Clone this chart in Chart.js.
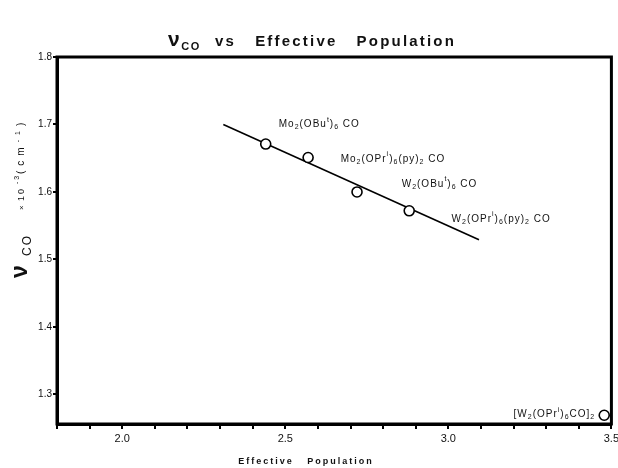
<!DOCTYPE html>
<html>
<head>
<meta charset="utf-8">
<script src="https://cdn.jsdelivr.net/npm/chart.js@4.4.1/dist/chart.umd.min.js"></script>
<style>
  html, body { margin: 0; padding: 0; background: #fff; }
  #wrap { width: 618px; height: 468px; }
</style>
</head>
<body>
<div id="wrap"><canvas id="c" width="618" height="468"></canvas></div>
<script>
// measured points (Effective Population, nu(CO) x 10^-3 cm^-1)
const popValues = [2.44, 2.57, 2.72, 2.88, 3.478];
const nuValues  = [1.671, 1.651, 1.600, 1.572, 1.269];

// hand drawn fit line through the first four compounds
const fitX = [2.31, 3.094];
const fitY = [1.700, 1.529];

// compound labels, _{..} subscript, ^{..} superscript
const labelText = [
  'Mo_{2}(OBu^{t})_{6} CO',
  'Mo_{2}(OPr^{i})_{6}(py)_{2} CO',
  'W_{2}(OBu^{t})_{6} CO',
  'W_{2}(OPr^{i})_{6}(py)_{2} CO',
  '[W_{2}(OPr^{i})_{6}CO]_{2}'
];
const labelX = [2.48, 2.67, 2.857, 3.01, 3.20];
const labelY = [1.700, 1.649, 1.612, 1.560, 1.270];

const xTicks = [1.8, 1.9, 2.0, 2.1, 2.2, 2.3, 2.4, 2.5, 2.6, 2.7, 2.8, 2.9, 3.0, 3.1, 3.2, 3.3, 3.4, 3.5];
const xTickLabels = ['2.0', '2.5', '3.0', '3.5'];
const yTicks = [1.3, 1.4, 1.5, 1.6, 1.7, 1.8];

const FONT = '"Liberation Sans", Arial, sans-serif';

// draws a string with sub/superscripts starting at x (left), baseline y
function richText(ctx, str, x, y, size, weight) {
  const re = /(_|\^)\{([^}]*)\}|([^_^]+)/g;
  let m;
  while ((m = re.exec(str)) !== null) {
    if (m[3]) {
      ctx.font = weight + ' ' + size + 'px ' + FONT;
      ctx.fillText(m[3], x, y);
      x += ctx.measureText(m[3]).width;
    } else {
      const s = size * 0.7;
      ctx.font = weight + ' ' + s + 'px ' + FONT;
      const dy = m[1] === '_' ? size * 0.3 : -size * 0.45;
      ctx.fillText(m[2], x, y + dy);
      x += ctx.measureText(m[2]).width;
    }
  }
  return x;
}

const decorations = {
  id: 'decorations',
  afterDraw(chart) {
    const ctx = chart.ctx;
    const a = chart.chartArea;
    const xs = chart.scales.x, ys = chart.scales.y;
    ctx.save();
    // frame
    ctx.strokeStyle = '#000';
    ctx.lineWidth = 3;
    ctx.strokeRect(a.left, a.top, a.right - a.left, a.bottom - a.top);

    ctx.fillStyle = '#111';
    ctx.textBaseline = 'middle';
    ctx.letterSpacing = '1px';
    // compound labels
    labelText.forEach((t, i) => {
      richText(ctx, t, xs.getPixelForValue(labelX[i]), ys.getPixelForValue(labelY[i]), 10, 'normal');
    });

    // main title
    ctx.textBaseline = 'alphabetic';
    ctx.letterSpacing = '1.6px';
    let x = 168, y = 46;
    ctx.font = 'bold 21px ' + FONT;
    ctx.fillText('ν', x, y);
    x += ctx.measureText('ν').width;
    ctx.font = 'bold 11px ' + FONT;
    ctx.fillText('CO', x, y + 4);
    x += ctx.measureText('CO').width + 14;
    ctx.font = 'bold 15px ' + FONT;
    ctx.letterSpacing = '2.2px';
    ctx.fillText('vs   Effective   Population', x, y);

    // x axis title
    ctx.font = 'bold 9px ' + FONT;
    ctx.letterSpacing = '2px';
    ctx.textAlign = 'center';
    ctx.fillText('Effective   Population', 306, 464);

    // y axis title, rotated (reads bottom to top)
    ctx.save();
    ctx.translate(27, 278);
    ctx.rotate(-Math.PI / 2);
    ctx.textAlign = 'left';
    ctx.letterSpacing = '0px';
    ctx.font = 'bold 23px ' + FONT;
    ctx.fillText('ν', 0, 0);
    ctx.letterSpacing = '2px';
    ctx.font = 'normal 12px ' + FONT;
    ctx.fillText('CO', 22, 4);
    ctx.letterSpacing = '0px';
    ctx.font = 'normal 8px ' + FONT;
    ctx.fillText('×', 68, -3);
    ctx.font = 'normal 9px ' + FONT;
    ctx.letterSpacing = '2px';
    ctx.fillText('10', 77, -3);
    ctx.font = 'normal 7px ' + FONT;
    ctx.fillText('-3', 94, -8);
    ctx.letterSpacing = '5px';
    richText(ctx, '(cm^{-1})', 104, -3, 10, 'normal');
    ctx.restore();
    ctx.restore();
  }
};

new Chart(document.getElementById('c'), {
  data: {
    datasets: [{
      type: 'line',
      label: 'fit',
      data: fitX.map((v, i) => ({ x: v, y: fitY[i] })),
      borderColor: '#000',
      borderWidth: 1.6,
      pointRadius: 0,
      order: 2
    }, {
      type: 'scatter',
      label: 'compounds',
      data: popValues.map((v, i) => ({ x: v, y: nuValues[i] })),
      pointRadius: 5,
      pointBorderWidth: 1.6,
      pointBorderColor: '#000',
      pointBackgroundColor: '#fff',
      order: 1
    }]
  },
  options: {
    responsive: false,
    animation: false,
    layout: { padding: { top: 57, right: 5, left: 0, bottom: 0 } },
    plugins: { legend: { display: false }, tooltip: { enabled: false } },
    scales: {
      x: {
        type: 'linear',
        min: 1.8,
        max: 3.5,
        afterBuildTicks: s => { s.ticks = xTicks.map(v => ({ value: v })); },
        afterFit: s => { s.height = 44; s.paddingLeft = 0; s.paddingRight = 0; },
        grid: { drawOnChartArea: false, drawTicks: true, tickLength: 5, lineWidth: 2, color: '#000' },
        border: { display: true, color: '#000', width: 3 },
        ticks: {
          color: '#111',
          padding: 3,
          maxRotation: 0,
          autoSkip: false,
          font: { family: FONT, size: 11 },
          callback: v => { const t = v.toFixed(1); return xTickLabels.includes(t) ? t : ''; }
        }
      },
      y: {
        type: 'linear',
        min: 1.256,
        max: 1.8,
        afterBuildTicks: s => { s.ticks = yTicks.map(v => ({ value: v })); },
        afterFit: s => { s.width = 57; s.paddingTop = 0; s.paddingBottom = 0; },
        grid: { drawOnChartArea: false, drawTicks: true, tickLength: 4, lineWidth: 2, color: '#000' },
        border: { display: true, color: '#000', width: 3 },
        ticks: {
          color: '#111',
          padding: 1,
          font: { family: FONT, size: 10 },
          callback: v => v.toFixed(1)
        }
      }
    }
  },
  plugins: [decorations]
});
</script>
</body>
</html>
